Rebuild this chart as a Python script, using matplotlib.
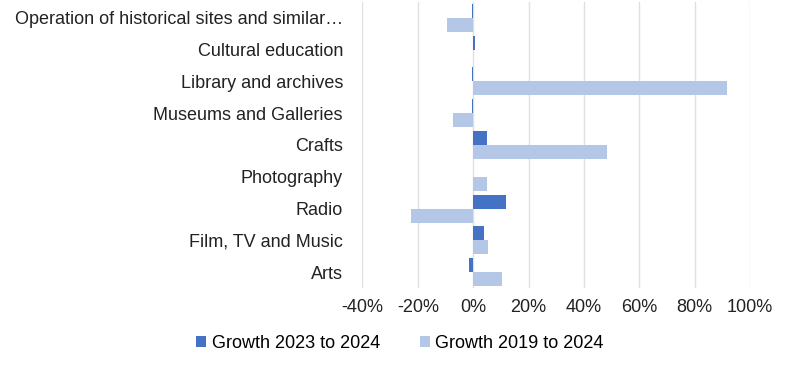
import matplotlib.pyplot as plt
import numpy as np
from matplotlib.ticker import FuncFormatter

categories = [
    "Arts",
    "Film, TV and Music",
    "Radio",
    "Photography",
    "Crafts",
    "Museums and Galleries",
    "Library and archives",
    "Cultural education",
    "Operation of historical sites and similar\u2026",
]
growth_2023_2024 = [-1.5, 4.0, 11.7, 0.0, 4.9, -0.5, -0.5, 0.8, -0.5]
growth_2019_2024 = [10.4, 5.4, -22.5, 4.9, 48.4, -7.1, 91.8, 0.0, -9.6]
x_ticks = [-40, -20, 0, 20, 40, 60, 80, 100]

plt.rcParams["font.family"] = ["Liberation Sans", "DejaVu Sans"]

fig = plt.figure(figsize=(8, 3.75), dpi=100)
ax = fig.add_axes([0.453, 0.232, 0.4845, 0.763])

y = np.arange(len(categories))
h = 0.44
ax.barh(y + h / 2, growth_2023_2024, height=h, color="#4472C4", label="Growth 2023 to 2024", zorder=3)
ax.barh(y - h / 2, growth_2019_2024, height=h, color="#B4C7E7", label="Growth 2019 to 2024", zorder=3)

ax.set_xlim(-40, 100)
ax.set_ylim(-0.5, len(categories) - 0.5)
ax.set_xticks(x_ticks)
ax.xaxis.set_major_formatter(FuncFormatter(lambda v, _: f"{v:.0f}%"))
ax.set_yticks(y)
ax.set_yticklabels(categories)
ax.tick_params(axis="both", length=0, labelsize=13, colors="#222222")
ax.tick_params(axis="y", pad=14)
ax.tick_params(axis="x", pad=8)
ax.grid(axis="x", color="#E0E0E0", linewidth=1, zorder=0)
for s in ax.spines.values():
    s.set_visible(False)

fig.legend(loc="center", bbox_to_anchor=(0.5, 0.085), ncol=2, frameon=False,
           fontsize=13, handlelength=0.55, handleheight=0.55, handletextpad=0.3,
           columnspacing=2.2)

fig.savefig("out.png", facecolor="white")
